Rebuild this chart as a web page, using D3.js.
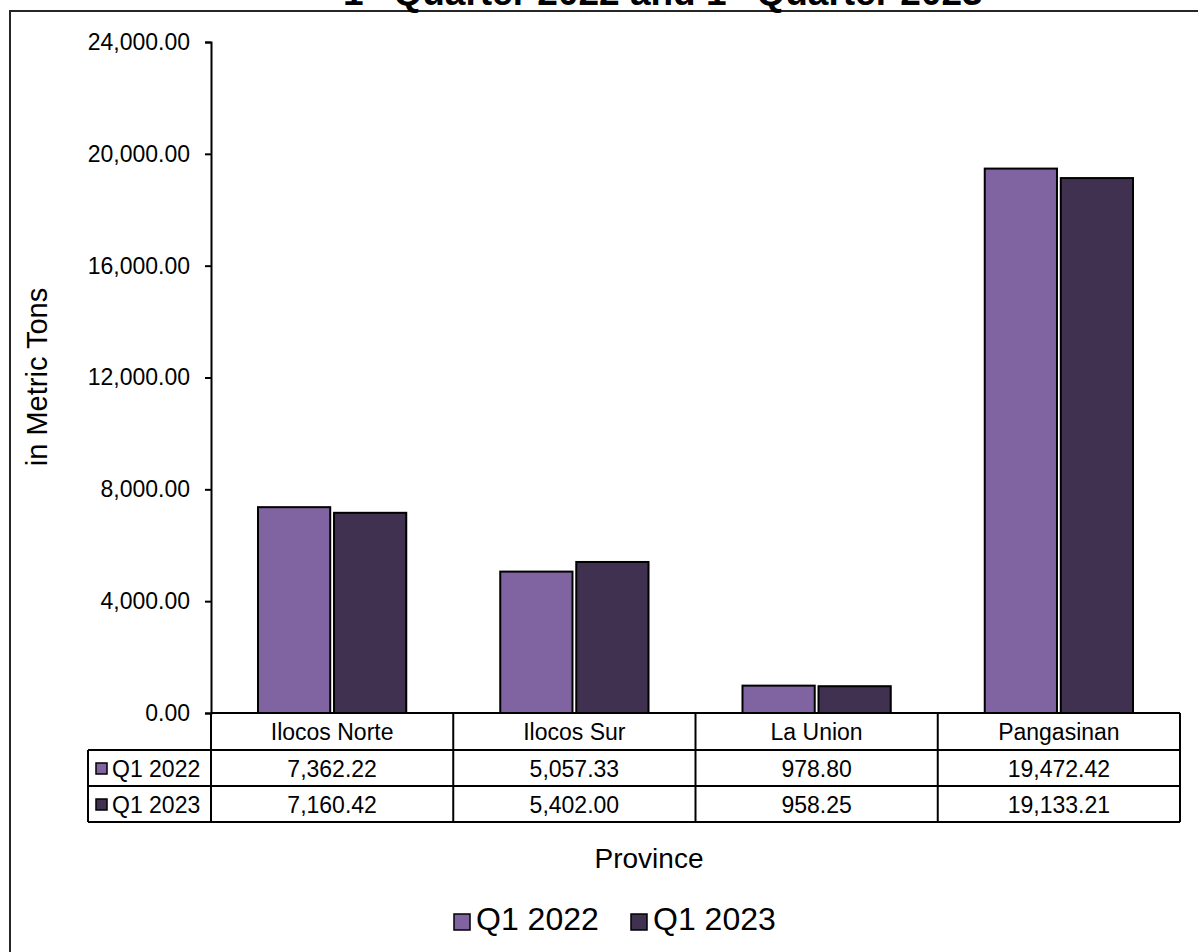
<!DOCTYPE html>
<html>
<head>
<meta charset="utf-8">
<script src="https://cdn.jsdelivr.net/npm/d3@7"></script>
<style>
  body { margin: 0; background: #fff; }
  svg { display: block; font-family: "Liberation Sans", Arial, sans-serif; }
</style>
</head>
<body>
<svg id="chart" width="1198" height="952"></svg>
<script>
// values
var provinces = ["Ilocos Norte", "Ilocos Sur", "La Union", "Pangasinan"];
var seriesNames = ["Q1 2022", "Q1 2023"];
var q1_2022 = [7362.22, 5057.33, 978.80, 19472.42];
var q1_2023 = [7160.42, 5402.00, 958.25, 19133.21];
var yTicks = [0, 4000, 8000, 12000, 16000, 20000, 24000];
var colors = ["#8064a2", "#403151"];

var seriesValues = [q1_2022, q1_2023];
var fmt = d3.format(",.2f");

var svg = d3.select("#chart");

// outer chart frame (runs off the page on right and bottom)
svg.append("rect")
  .attr("x", 10).attr("y", 11)
  .attr("width", 1400).attr("height", 1100)
  .attr("fill", "none")
  .attr("stroke", "#262626")
  .attr("stroke-width", 2);

// title, mostly cut off by the top of the page (as in the original)
var title = svg.append("text")
  .attr("x", 343).attr("y", 5)
  .attr("font-size", 37).attr("font-weight", "bold");
title.append("tspan").text("1");
title.append("tspan").attr("font-size", 22).attr("dy", -14).text("st");
title.append("tspan").attr("dy", 14).text(" Quarter 2022 and 1");
title.append("tspan").attr("font-size", 22).attr("dy", -14).text("st");
title.append("tspan").attr("dy", 14).text(" Quarter 2023");

// scales
var x0 = d3.scaleBand().domain(provinces).range([211, 1180]).padding(0);
var bw = x0.bandwidth();
var x1 = d3.scaleBand().domain(seriesNames)
  .range([bw * 0.194, bw * 0.806]).paddingInner(0.05);
var y = d3.scaleLinear().domain([0, 24000]).range([713, 42]);

// y axis
var yAxis = d3.axisLeft(y)
  .tickValues(yTicks)
  .tickFormat(fmt)
  .tickSize(6)
  .tickPadding(15);

var gy = svg.append("g")
  .attr("transform", "translate(211,0)")
  .call(yAxis);
gy.select(".domain").attr("stroke", "#000").attr("stroke-width", 2);
gy.selectAll(".tick line").attr("stroke", "#000").attr("stroke-width", 2);
gy.selectAll(".tick text")
  .attr("font-size", 23)
  .attr("font-family", "Liberation Sans, Arial, sans-serif")
  .attr("fill", "#000");

// bars
var groups = svg.append("g").selectAll("g")
  .data(provinces)
  .join("g")
  .attr("transform", function(d) { return "translate(" + x0(d) + ",0)"; });

groups.selectAll("rect")
  .data(function(d, i) {
    return seriesNames.map(function(s, j) {
      return {series: s, value: seriesValues[j][i], color: colors[j]};
    });
  })
  .join("rect")
  .attr("x", function(d) { return x1(d.series); })
  .attr("y", function(d) { return y(d.value); })
  .attr("width", x1.bandwidth())
  .attr("height", function(d) { return y(0) - y(d.value); })
  .attr("fill", function(d) { return d.color; })
  .attr("stroke", "#000")
  .attr("stroke-width", 2);

// data table below the plot
var rowTop = [713, 750, 786];
var rowH = 36.5;
var tableLeft = 88;
var tableRight = 1180;
var table = svg.append("g");

// header row: province names
table.selectAll("text.head")
  .data(provinces)
  .join("text")
  .attr("class", "head")
  .attr("x", function(d) { return x0(d) + bw / 2; })
  .attr("y", rowTop[0] + rowH / 2 + 8.5)
  .attr("text-anchor", "middle")
  .attr("font-size", 23)
  .text(function(d) { return d; });

// value rows
seriesNames.forEach(function(s, j) {
  var top = rowTop[j + 1];
  table.append("rect")
    .attr("x", 96).attr("y", top + 13)
    .attr("width", 11).attr("height", 11)
    .attr("fill", colors[j])
    .attr("stroke", "#000").attr("stroke-width", 1.5);
  table.append("text")
    .attr("x", 112).attr("y", top + rowH / 2 + 8.5)
    .attr("font-size", 23)
    .text(s);
  table.selectAll("text.v" + j)
    .data(seriesValues[j])
    .join("text")
    .attr("class", "v" + j)
    .attr("x", function(d, i) { return x0(provinces[i]) + bw / 2; })
    .attr("y", top + rowH / 2 + 8.5)
    .attr("text-anchor", "middle")
    .attr("font-size", 23)
    .text(function(d) { return fmt(d); });
});

// table grid lines
var lineStyle = function(sel) { return sel.attr("stroke", "#000").attr("stroke-width", 2); };
var bottom = 822;
// horizontal lines
table.append("line").attr("x1", 211).attr("x2", tableRight).attr("y1", 713).attr("y2", 713).call(lineStyle);
[750, 786, bottom].forEach(function(yy) {
  table.append("line").attr("x1", tableLeft).attr("x2", tableRight).attr("y1", yy).attr("y2", yy).call(lineStyle);
});
// vertical lines
table.append("line").attr("x1", tableLeft).attr("x2", tableLeft).attr("y1", 750).attr("y2", bottom).call(lineStyle);
provinces.forEach(function(p) {
  table.append("line").attr("x1", x0(p)).attr("x2", x0(p)).attr("y1", 713).attr("y2", bottom).call(lineStyle);
});
table.append("line").attr("x1", tableRight).attr("x2", tableRight).attr("y1", 713).attr("y2", bottom).call(lineStyle);

// axis titles
svg.append("text")
  .attr("transform", "translate(47,377) rotate(-90)")
  .attr("text-anchor", "middle")
  .attr("font-size", 29)
  .text("in Metric Tons");

svg.append("text")
  .attr("x", 649).attr("y", 868)
  .attr("text-anchor", "middle")
  .attr("font-size", 28)
  .text("Province");

// legend
var legendX = [453, 630];
var legend = svg.append("g").selectAll("g")
  .data(seriesNames)
  .join("g")
  .attr("transform", function(d, i) { return "translate(" + legendX[i] + ",0)"; });
legend.append("rect")
  .attr("x", 1).attr("y", 914)
  .attr("width", 16).attr("height", 16)
  .attr("fill", function(d, i) { return colors[i]; })
  .attr("stroke", "#000").attr("stroke-width", 1.5);
legend.append("text")
  .attr("x", 23).attr("y", 930)
  .attr("font-size", 32)
  .text(function(d) { return d; });
</script>
</body>
</html>
